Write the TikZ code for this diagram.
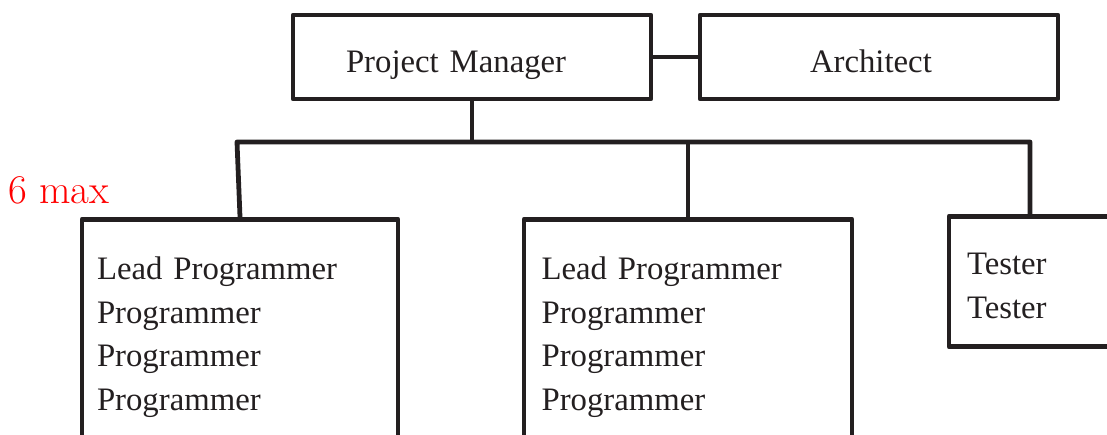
\documentclass[tikz,border=0pt]{standalone}
\usepackage{fontspec}
\newfontfamily\boxfont[WordSpace=0.8]{Liberation Serif}
\definecolor{ink}{RGB}{35,31,32}
\tikzset{
  orgbox/.style={draw=ink, line width=3.4pt, line join=round, text=ink,
    font=\boxfont\fontsize{23.3}{31.1}\selectfont, align=left},
  topbox/.style={orgbox, minimum width=8.95cm, minimum height=2.1cm, text height=0.75cm, text depth=0pt},
  teambox/.style={orgbox, anchor=north, text depth=7cm, inner ysep=0.93cm},
  link/.style={draw=ink, line width=3.4pt, line join=round}
}

\begin{document}
\begin{tikzpicture}
                \useasboundingbox (0,0) rectangle (27.675,-10.85);
                \clip (0,0) rectangle (27.675,-10.85);

                \node[topbox, text width=6.3cm, inner xsep=1.325cm] (pm) at (11.8,-1.425) {Project Manager};
                \node[topbox, text width=3.45cm, inner xsep=2.75cm] (arch) at (21.975,-1.425) {Architect};

                \node[teambox, text width=7.15cm, inner xsep=0.375cm] (teamA) at (6.0,-5.425)
                    {Lead Programmer\\Programmer\\Programmer\\Programmer};
                \node[teambox, text width=7.32cm, inner xsep=0.44cm] (teamB) at (17.2,-5.425)
                    {Lead Programmer\\Programmer\\Programmer\\Programmer};
                \node[orgbox, anchor=north, text width=3.15cm, inner xsep=0.45cm, inner ysep=0.715cm,
                      text height=0.735cm, text depth=1.094cm] (test) at (25.75,-5.35)
                    {Tester\\Tester};

                \coordinate (busL) at (5.925,-3.55);
                \draw[link] (pm) -- (arch);
                \draw[link] (pm.south) -- (pm.south |- busL);
                \draw[link] (teamA.north) -- (busL) -| (test.north);
                \draw[link] (teamB.north) -- (teamB.north |- busL);

                \node[text=red, font=\fontsize{29}{33}\selectfont, inner sep=0pt, anchor=base west] (limit) at (0.2,-5.075) {6 max};
\end{tikzpicture}
\end{document}
